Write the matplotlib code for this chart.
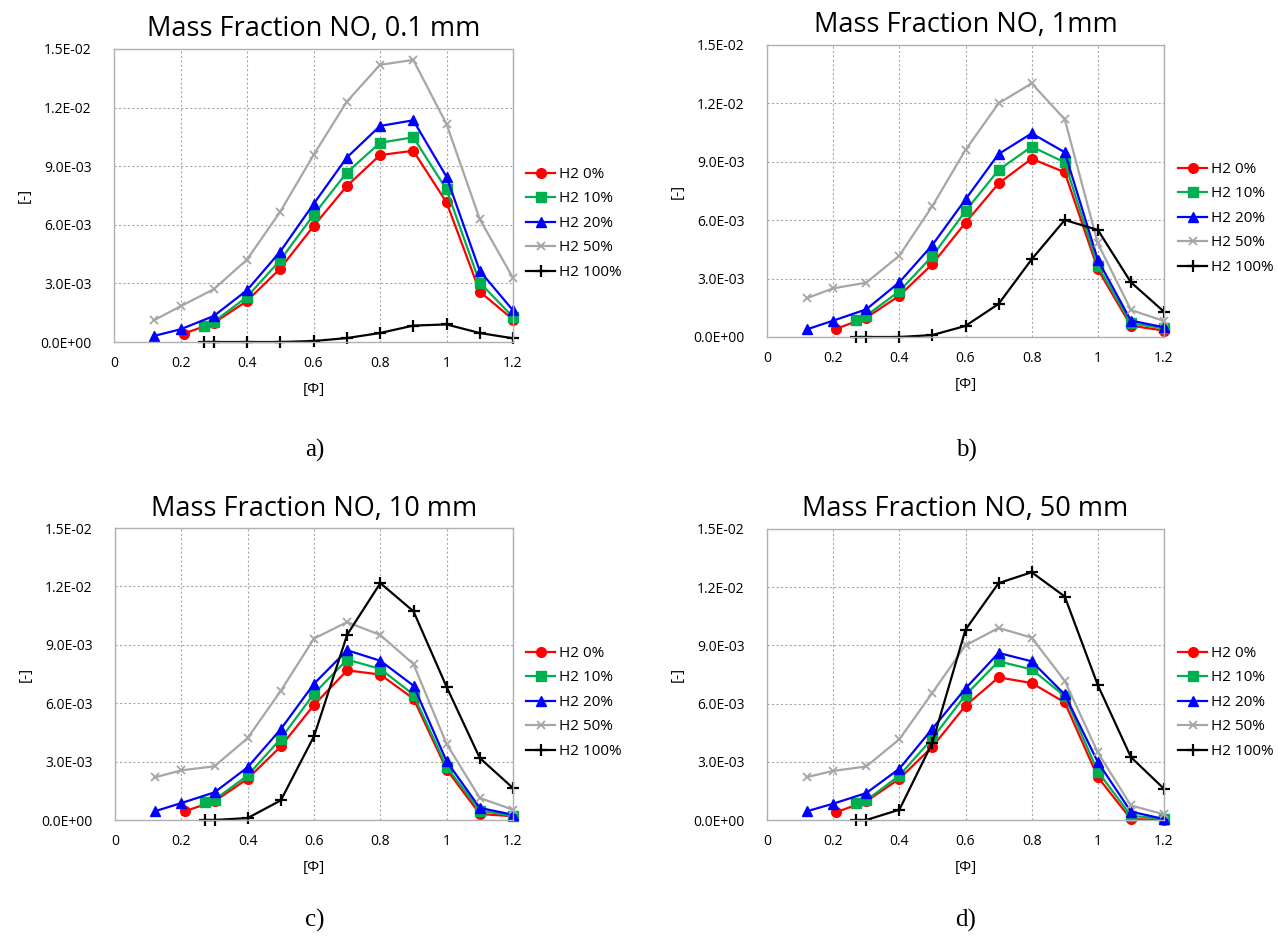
import matplotlib
matplotlib.use("Agg")
import matplotlib.pyplot as plt

plt.rcParams['font.family'] = ['Open Sans', 'DejaVu Sans']

# x positions per series
x_h0 = [0.21, 0.3, 0.4, 0.5, 0.6, 0.7, 0.8, 0.9, 1.0, 1.1, 1.2]
x_h10 = [0.27, 0.3, 0.4, 0.5, 0.6, 0.7, 0.8, 0.9, 1.0, 1.1, 1.2]
x_h20 = [0.12, 0.2, 0.3, 0.4, 0.5, 0.6, 0.7, 0.8, 0.9, 1.0, 1.1, 1.2]
x_h50 = [0.12, 0.2, 0.3, 0.4, 0.5, 0.6, 0.7, 0.8, 0.9, 1.0, 1.1, 1.2]
x_h100 = [0.27, 0.3, 0.4, 0.5, 0.6, 0.7, 0.8, 0.9, 1.0, 1.1, 1.2]

# values in units of 1e-3
a_h0 = [0.43, 0.97, 2.10, 3.76, 5.93, 7.98, 9.57, 9.79, 7.15, 2.58, 1.15]
a_h10 = [0.84, 1.03, 2.31, 4.19, 6.50, 8.67, 10.20, 10.48, 7.81, 3.04, 1.28]
a_h20 = [0.31, 0.65, 1.33, 2.65, 4.63, 7.06, 9.44, 11.06, 11.35, 8.46, 3.64, 1.62]
a_h50 = [1.11, 1.83, 2.70, 4.22, 6.67, 9.57, 12.30, 14.19, 14.44, 11.16, 6.29, 3.28]
a_h100 = [0.0, 0.0, 0.0, 0.0, 0.05, 0.20, 0.46, 0.84, 0.90, 0.46, 0.19]

b_h0 = [0.43, 0.99, 2.12, 3.75, 5.87, 7.89, 9.16, 8.46, 3.48, 0.58, 0.33]
b_h10 = [0.89, 1.10, 2.35, 4.16, 6.47, 8.58, 9.78, 8.97, 3.65, 0.70, 0.45]
b_h20 = [0.39, 0.84, 1.42, 2.81, 4.73, 7.07, 9.40, 10.46, 9.49, 3.96, 0.84, 0.50]
b_h50 = [1.99, 2.50, 2.79, 4.18, 6.73, 9.61, 12.00, 13.03, 11.18, 4.81, 1.39, 0.82]
b_h100 = [0.0, 0.0, 0.0, 0.10, 0.57, 1.70, 3.99, 6.01, 5.50, 2.81, 1.30]

c_h0 = [0.45, 0.96, 2.12, 3.78, 5.91, 7.69, 7.47, 6.23, 2.59, 0.31, 0.19]
c_h10 = [0.92, 1.04, 2.29, 4.18, 6.49, 8.24, 7.76, 6.44, 2.72, 0.48, 0.22]
c_h20 = [0.45, 0.87, 1.42, 2.71, 4.67, 7.00, 8.72, 8.18, 6.90, 3.01, 0.62, 0.27]
c_h50 = [2.19, 2.55, 2.76, 4.21, 6.64, 9.32, 10.17, 9.50, 8.01, 3.90, 1.13, 0.53]
c_h100 = [0.0, 0.0, 0.10, 1.01, 4.30, 9.52, 12.17, 10.72, 6.83, 3.18, 1.64]

d_h0 = [0.41, 0.96, 2.12, 3.78, 5.89, 7.35, 7.06, 6.06, 2.21, 0.05, 0.0]
d_h10 = [0.87, 1.01, 2.29, 4.21, 6.44, 8.18, 7.76, 6.39, 2.50, 0.22, 0.05]
d_h20 = [0.45, 0.84, 1.39, 2.64, 4.71, 6.78, 8.61, 8.18, 6.47, 2.98, 0.43, 0.05]
d_h50 = [2.21, 2.53, 2.76, 4.16, 6.56, 9.00, 9.90, 9.40, 7.17, 3.48, 0.75, 0.29]
d_h100 = [0.0, 0.0, 0.53, 3.99, 9.81, 12.21, 12.77, 11.52, 6.95, 3.24, 1.61]

titles = ["Mass Fraction NO, 0.1 mm", "Mass Fraction NO, 1mm",
          "Mass Fraction NO, 10 mm", "Mass Fraction NO, 50 mm"]
panel_labels = ["a)", "b)", "c)", "d)"]
series_labels = ["H2 0%", "H2 10%", "H2 20%", "H2 50%", "H2 100%"]
x_ticks = [0, 0.2, 0.4, 0.6, 0.8, 1.0, 1.2]
x_ticklabels = ["0", "0.2", "0.4", "0.6", "0.8", "1", "1.2"]
y_ticks = [0, 0.003, 0.006, 0.009, 0.012, 0.015]
y_ticklabels = ["0.0E+00", "3.0E-03", "6.0E-03", "9.0E-03", "1.2E-02", "1.5E-02"]

panels = [
    (a_h0, a_h10, a_h20, a_h50, a_h100),
    (b_h0, b_h10, b_h20, b_h50, b_h100),
    (c_h0, c_h10, c_h20, c_h50, c_h100),
    (d_h0, d_h10, d_h20, d_h50, d_h100),
]
xs = [x_h0, x_h10, x_h20, x_h50, x_h100]
styles = [
    dict(color="#ff0000", marker="o", markersize=7, lw=1.6),
    dict(color="#00b050", marker="s", markersize=6.5, lw=1.6),
    dict(color="#0000ff", marker="^", markersize=7, lw=1.6),
    dict(color="#a6a6a6", marker="x", markersize=6, lw=1.6, mew=1.3),
    dict(color="#000000", marker="+", markersize=9, lw=1.6, mew=1.6),
]

W, H = 1278, 936
fig = plt.figure(figsize=(W / 100, H / 100), dpi=100)

# pixel boxes: left, right, top, bottom
boxes = [(114, 513, 49, 342), (767, 1164, 45, 337),
         (115, 513, 528, 820), (767, 1164, 529, 820)]
label_pos = [(315, 450), (966, 450), (315, 920), (966, 920)]
legend_pos = [(526, 167), (1178, 162), (526, 646), (1178, 646)]

for i, (l, r, t, b) in enumerate(boxes):
    ax = fig.add_axes([l / W, 1 - b / H, (r - l) / W, (b - t) / H])
    for j, (xv, yv) in enumerate(zip(xs, panels[i])):
        ax.plot(xv, [v * 1e-3 for v in yv], label=series_labels[j], clip_on=False, **styles[j])
    ax.set_xlim(0, 1.2)
    ax.set_ylim(0, 0.015)
    ax.set_xticks(x_ticks)
    ax.set_xticklabels(x_ticklabels)
    ax.set_yticks(y_ticks)
    ax.set_yticklabels(y_ticklabels)
    ax.tick_params(length=0, labelsize=10)
    ax.tick_params(axis='y', pad=16)
    ax.tick_params(axis='x', pad=10)
    ax.grid(True, color="#a8a8a8", linestyle=(0, (2, 2)), lw=0.8)
    for s in ax.spines.values():
        s.set_color("#b0b0b0")
        s.set_linewidth(1.0)
    ax.set_xlabel("[Φ]", fontsize=11, labelpad=8)
    ax.set_ylabel("[-]", fontsize=11, labelpad=6)
    ax.set_title(titles[i], fontsize=19.5, pad=9)
    lx, ly = legend_pos[i]
    ax.legend(loc="upper left", bbox_to_anchor=(lx / W, 1 - ly / H),
              bbox_transform=fig.transFigure, frameon=False, borderaxespad=0,
              borderpad=0, fontsize=11, handlelength=1.9, handletextpad=0.25,
              labelspacing=0.62)
    fig.text(label_pos[i][0] / W, 1 - label_pos[i][1] / H, panel_labels[i],
             fontsize=18, family="Liberation Serif", ha="center", va="center")

fig.savefig("out.png", dpi=100)
